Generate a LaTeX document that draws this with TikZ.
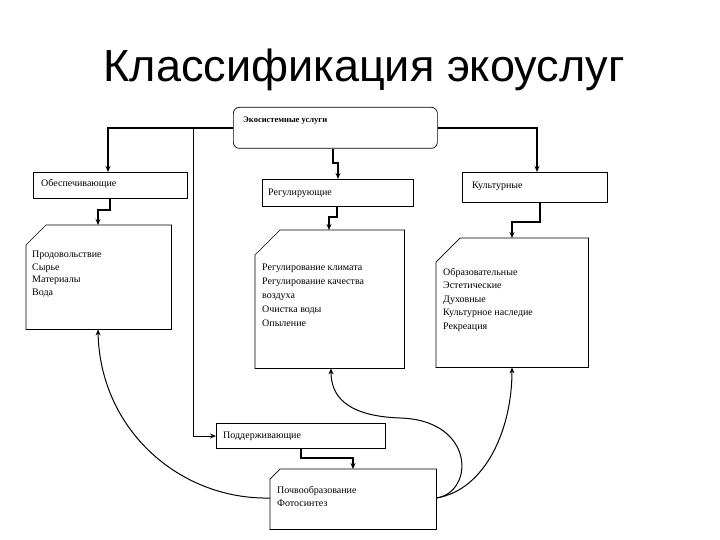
\documentclass[tikz,border=0pt]{standalone}
\usepackage{fontspec}
\setmainfont{Liberation Serif}
\newfontfamily\titlefont{Liberation Sans}
\usetikzlibrary{arrows.meta}
\newcommand\chambox[2]{\draw[line width=0.7pt] ([xshift=#2pt]#1.north west) -- (#1.north east) -- (#1.south east) -- (#1.south west) -- ([yshift=-#2pt]#1.north west) -- cycle;}
\begin{document}
\begin{tikzpicture}[x=1pt,y=-1pt,
  box/.style={draw,line width=0.7pt,anchor=north west,inner sep=0pt},
  area/.style={anchor=north west,inner sep=0pt},
  lst/.style={anchor=north west,align=left,inner sep=0pt,font=\fontsize{10}{13}\selectfont},
  lbl/.style={anchor=west,inner sep=0pt,font=\fontsize{10}{12}\selectfont},
  conn/.style={line width=1.6pt,-{Stealth[length=6pt,width=5pt]}},
  thin/.style={line width=1pt,-{Stealth[length=6pt,width=5pt]}}]
\useasboundingbox (0,0) rectangle (720,540);
\node[font=\titlefont\fontsize{45}{50}\selectfont] (title) at (364,70) {Классификация экоуслуг};
% top
\node[box,rounded corners=6pt,minimum width=204pt,minimum height=41pt] (top) at (233,107) {};
\node[lbl,font=\bfseries\fontsize{8.5}{10}\selectfont] (toptxt) at (243,121) {Экосистемные услуги};
% second row
\node[box,minimum width=154pt,minimum height=26pt] (prov) at (33,172) {};
\node[lbl] (provtxt) at (41,184) {Обеспечивающие};
\node[box,minimum width=151pt,minimum height=27pt] (reg) at (262,179) {};
\node[lbl] (regtxt) at (268,193) {Регулирующие};
\node[box,minimum width=145pt,minimum height=30pt] (cult) at (462,172) {};
\node[lbl] (culttxt) at (472,186) {Культурные};
% lists
\node[area,minimum width=145pt,minimum height=104pt] (provl) at (26,225) {};
\chambox{provl}{20}
\node[lst,font=\fontsize{10}{12.5}\selectfont] (provltxt) at (32,251) {Продовольствие\\Сырье\\Материалы\\Вода};
\node[area,minimum width=149pt,minimum height=138pt] (regl) at (255,230) {};
\chambox{regl}{25}
\node[lst,font=\fontsize{10}{14}\selectfont] (regltxt) at (262,264) {Регулирование климата\\Регулирование качества\\воздуха\\Очистка воды\\Опыление};
\node[area,minimum width=152pt,minimum height=129pt] (cultl) at (436,238) {};
\chambox{cultl}{24}
\node[lst,font=\fontsize{10}{13.5}\selectfont] (cultltxt) at (443,268) {Образовательные\\Эстетические\\Духовные\\Культурное наследие\\Рекреация};
% supporting
\node[box,minimum width=169pt,minimum height=25pt] (sup) at (216,423) {};
\node[lbl] (suptxt) at (223,436) {Поддерживающие};
\node[area,minimum width=166pt,minimum height=60pt] (supl) at (270,469) {};
\chambox{supl}{10}
\node[lst,font=\fontsize{10}{13.5}\selectfont] (supltxt) at (277,486) {Почвообразование\\Фотосинтез};
% connectors
\draw[conn] (top.west|-0,128) -| (prov.north-|108,0);
\draw[conn] (top.east|-0,128) -| (cult.north-|537,0);
\coordinate (vtop) at (193,128);
\draw[thin] (vtop) -- (193,436) -- (sup.west|-0,436);
\draw[conn] (top.south-|333,0) -- (333,163) -- (338,163) -- (reg.north-|338,0);
\draw[conn] (prov.south-|110,0) -- (110,210) -- (98,210) -- (provl.north-|98,0);
\draw[conn] (reg.south-|337,0) -- (337,217) -- (329,217) -- (regl.north-|329,0);
\draw[conn] (cult.south-|540,0) -- (540,222) -- (512,222) -- (cultl.north-|512,0);
\draw[conn] (sup.south-|301,0) -- (301,458) -- (353,458) -- (supl.north-|353,0);
% curves
\draw[thin] (supl.west|-0,498) .. controls (180,500) and (100,430) .. (provl.south-|98,0);
\draw[thin] (supl.east|-0,498) .. controls (475,492) and (475,420) .. (400,418) .. controls (345,416) and (331,395) .. (regl.south-|331,0);
\draw[thin] (supl.east|-0,498) .. controls (485,490) and (512,430) .. (cultl.south-|512,0);
\end{tikzpicture}
\end{document}
